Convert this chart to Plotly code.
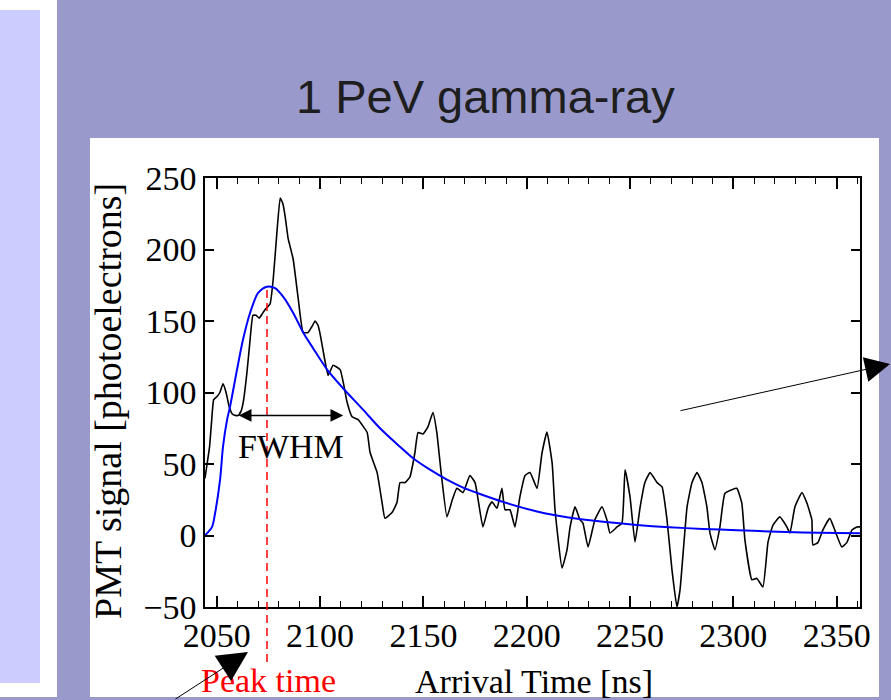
import plotly.graph_objects as go

# ---------------- data ----------------
signal_time = [2044.3, 2045.3, 2046.5, 2047.5, 2048.5, 2050.0, 2051.5, 2053.0, 2054.5, 2056.0,
               2057.5, 2059.0, 2060.5, 2062.0, 2063.0, 2064.6, 2066.0, 2067.5, 2069.0, 2070.5,
               2072.0, 2073.4, 2075.8, 2077.3, 2079.0, 2080.7, 2082.0, 2083.1, 2084.5, 2085.5,
               2087.0, 2089.3, 2091.8, 2094.2, 2096.0, 2097.6, 2099.0, 2100.0, 2102.0, 2103.9,
               2106.3, 2109.7, 2111.5, 2113.1, 2115.5, 2118.4, 2120.5, 2122.8, 2124.2, 2127.6,
               2130.0, 2131.4, 2134.8, 2137.2, 2138.7, 2141.1, 2143.5, 2145.9, 2147.4, 2149.8,
               2152.2, 2154.6, 2156.5, 2158.5, 2161.4, 2164.0, 2166.2, 2169.2, 2172.5, 2175.0,
               2178.8, 2181.3, 2183.2, 2185.6, 2188.0, 2189.5, 2191.9, 2194.3, 2196.7, 2199.2,
               2201.6, 2205.0, 2207.4, 2209.8, 2212.3, 2213.7, 2217.1, 2219.5, 2221.0, 2223.4,
               2225.8, 2227.2, 2229.7, 2233.0, 2236.4, 2238.8, 2240.3, 2243.7, 2246.1, 2247.6,
               2250.0, 2252.4, 2254.8, 2257.2, 2259.7, 2263.1, 2265.5, 2267.9, 2270.3, 2272.7,
               2274.2, 2277.6, 2280.0, 2282.4, 2284.8, 2287.2, 2288.7, 2291.1, 2293.5, 2295.9,
               2299.3, 2301.7, 2304.1, 2305.6, 2309.0, 2311.4, 2314.3, 2316.8, 2319.2, 2322.5,
               2325.9, 2327.4, 2329.8, 2333.2, 2335.6, 2338.0, 2338.5, 2340.9, 2343.3, 2346.7,
               2349.1, 2352.5, 2354.9, 2357.4, 2359.8, 2361.3]
signal_pe = [40, 50, 62, 80, 95, 97, 100, 106, 100, 90,
             85, 84, 84, 88, 95, 114, 135, 154, 154, 152,
             155, 158, 162, 179, 210, 236, 232, 223, 208, 202,
             193, 167, 142, 142, 146, 150, 147, 141, 125, 112,
             119, 116, 105, 93, 83, 81, 77, 72, 58, 44,
             23, 12, 16, 23, 37, 37, 41, 58, 72, 71,
             76, 86, 72, 45, 13, 25, 33, 30, 42, 37,
             6, 19, 23.5, 19, 33, 18, 18, 6, 27, 42,
             44, 33, 57.7, 72.4, 50.7, 18, -22.7, -10, 6, 20,
             11, 8.7, -8, 11, 20, 11, 1.7, 6, 8.7, 46,
             27, -4.5, 19, 37, 44, 37, 34, 11, -24, -50,
             -38, 20, 37, 44, 37, 20, 1.7, -10, 6, 29.4,
             32, 33, 22.7, -3, -31, -30, -36, -4.5, 7.3, 13,
             6, 1.7, 20, 30, 22.7, 11, -6.6, -5, 3.8, 12,
             3.8, -8, -5, 3.8, 6, 6]

fit_time = [2044.3, 2047.7, 2049.2, 2051.6, 2053.0, 2055.0, 2056.4, 2059.8, 2062.7, 2066.1,
            2070.0, 2074.3, 2078.2, 2082.1, 2087.0, 2091.8, 2096.6, 2103.4, 2111.1, 2120.8,
            2129.0, 2138.7, 2145.0, 2153.2, 2161.4, 2169.2, 2177.4, 2188.5, 2205.0, 2221.0,
            2237.0, 2253.3, 2269.0, 2285.3, 2301.7, 2317.6, 2333.7, 2350.0, 2361.3]
fit_pe = [0, 6, 15.7, 39, 62, 81, 90, 116, 137, 155.6,
          169.6, 174, 173, 167, 155.6, 142, 131, 116, 103, 88,
          75, 62, 54, 46, 39, 33.5, 29, 23.5, 16.8, 12.4,
          9.6, 7.4, 5.8, 4.6, 3.7, 2.8, 2.1, 1.7, 1.5]

peak_time = 2074.3
peak_value = 171.7
fwhm_start = 2059.9
fwhm_end = 2111.2
fwhm_level = 84

x_range = [2044.3, 2361.3]
y_range = [-50, 250]
x_ticks = [2050, 2100, 2150, 2200, 2250, 2300, 2350]
y_ticks = [-50, 0, 50, 100, 150, 200, 250]

title_text = "1 PeV gamma-ray"
y_title = "PMT signal [photoelectrons]"
x_title = "Arrival Time [ns]"
fwhm_text = "FWHM"
peak_text = "Peak time"

# ---------------- layout geometry (pixels) ----------------
W, H = 891, 700
L, R, T, B = 205, 860, 178, 607
PW, PH = R - L, B - T


def px(xp):
    return (xp - L) / PW


def py(yp):
    return (B - yp) / PH


SERIF = "Liberation Serif, Times New Roman, serif"
SANS = "Liberation Sans, Arial, sans-serif"
LAV = "#9999CC"
LAV_LIGHT = "#CCCCFF"

fig = go.Figure()
fig.add_trace(go.Scatter(x=signal_time, y=signal_pe, mode="lines",
                         line=dict(color="black", width=1.6, shape="spline", smoothing=0.4),
                         showlegend=False, hoverinfo="skip"))
fig.add_trace(go.Scatter(x=fit_time, y=fit_pe, mode="lines",
                         line=dict(color="#0000FF", width=2, shape="spline", smoothing=0.8),
                         showlegend=False, hoverinfo="skip"))

peak_frac = (peak_value - y_range[0]) / (y_range[1] - y_range[0])
shapes = [
    dict(type="rect", xref="paper", yref="paper", x0=px(57), x1=px(891), y0=py(0), y1=py(700),
         fillcolor=LAV, line_width=0, layer="below"),
    dict(type="rect", xref="paper", yref="paper", x0=px(0), x1=px(57), y0=py(697), y1=py(700),
         fillcolor=LAV, line_width=0, layer="below"),
    dict(type="rect", xref="paper", yref="paper", x0=px(0), x1=px(40), y0=py(10), y1=py(683),
         fillcolor=LAV_LIGHT, line_width=0, layer="below"),
    dict(type="rect", xref="paper", yref="paper", x0=px(90), x1=px(879), y0=py(138), y1=py(697),
         fillcolor="white", line_width=0, layer="below"),
    # peak-time marker
    dict(type="line", xref="x", yref="paper", x0=peak_time, x1=peak_time,
         y0=peak_frac, y1=py(662),
         line=dict(color="#FF0000", width=1.5, dash="8px,5px"), layer="above"),
]
fig.update_layout(shapes=shapes)

ann = []
ann.append(dict(text=title_text, xref="paper", yref="paper", x=px(485), y=py(96),
                xanchor="center", yanchor="middle", showarrow=False,
                font=dict(family=SANS, size=47, color="#1e1e1e")))
ann.append(dict(text=y_title, xref="paper", yref="paper", x=px(108), y=py(401),
                xanchor="center", yanchor="middle", textangle=-90, showarrow=False,
                font=dict(family=SERIF, size=38, color="black")))
ann.append(dict(text=x_title, xref="paper", yref="paper", x=px(534), y=py(681),
                xanchor="center", yanchor="middle", showarrow=False,
                font=dict(family=SERIF, size=34, color="black")))
ann.append(dict(text=peak_text, xref="paper", yref="paper", x=px(268), y=py(680),
                xanchor="center", yanchor="middle", showarrow=False,
                font=dict(family=SERIF, size=34, color="#FF0000")))
ann.append(dict(text=fwhm_text, xref="x", yref="paper", x=(fwhm_start + fwhm_end) / 2 + 0.5,
                y=py(446), xanchor="center", yanchor="middle", showarrow=False,
                font=dict(family=SERIF, size=34, color="black")))
# FWHM double arrow
ann.append(dict(text="", x=fwhm_end, y=fwhm_level, ax=fwhm_start, ay=fwhm_level,
                xref="x", yref="y", axref="x", ayref="y", showarrow=True,
                arrowhead=2, startarrowhead=2, arrowside="end+start", arrowsize=1.7,
                startarrowsize=1.7, arrowwidth=1.5, arrowcolor="black"))
# pointer arrow on the right
ann.append(dict(text="", xref="paper", yref="paper", x=px(898), y=py(364),
                ax=679 - 898, ay=411 - 364, showarrow=True, arrowhead=2, arrowsize=5,
                arrowwidth=1, arrowcolor="black"))
# pointer arrow bottom-left
ann.append(dict(text="", xref="paper", yref="paper", x=px(248), y=py(652),
                ax=-74, ay=58, showarrow=True, arrowhead=2, arrowsize=6,
                arrowwidth=1, arrowcolor="black"))
fig.update_layout(annotations=ann)

axis_common = dict(showgrid=False, zeroline=False, showline=True, linecolor="black",
                   linewidth=1.5, mirror="ticks", ticks="inside", tickcolor="black",
                   tickwidth=1.5, tickfont=dict(family=SERIF, size=34, color="black"))
fig.update_xaxes(range=x_range, tickvals=x_ticks, ticklen=11,
                 minor=dict(dtick=10, tick0=2050, ticks="inside", ticklen=6,
                            tickcolor="black", tickwidth=1.2),
                 ticklabelstandoff=-3, **axis_common)
fig.update_yaxes(range=y_range, tickvals=y_ticks, ticklen=9, ticklabelstandoff=0,
                 **axis_common)

fig.update_layout(width=W, height=H, margin=dict(l=L, r=W - R, t=T, b=H - B),
                  paper_bgcolor="white", plot_bgcolor="rgba(0,0,0,0)",
                  showlegend=False)

fig.write_html("out.html")
